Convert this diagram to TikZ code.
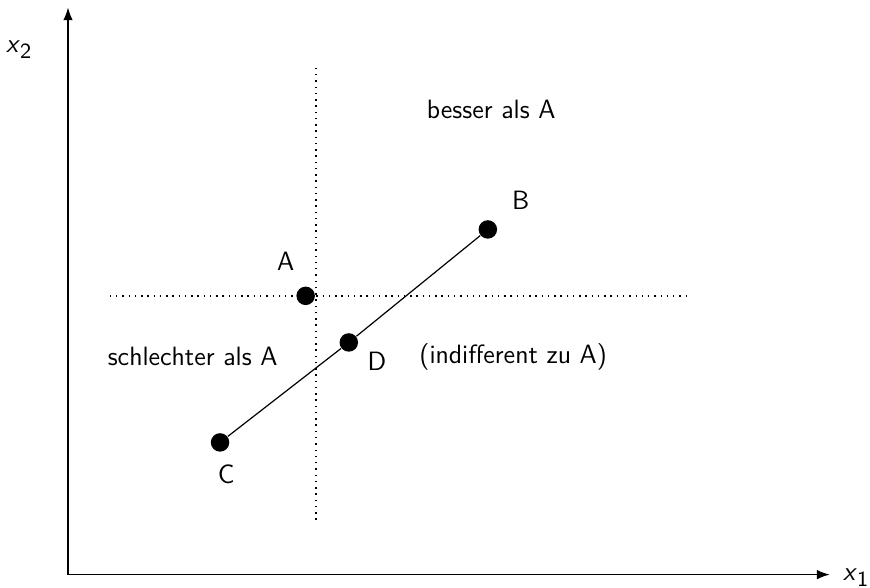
\documentclass[tikz,border=0pt]{standalone}
\usetikzlibrary{arrows.meta}
\renewcommand{\familydefault}{\sfdefault}

\begin{document}
\begin{tikzpicture}[line width=0.5pt,>=Latex,
  every node/.style={font=\fontsize{11}{13}\selectfont},
  pt/.style={circle,fill=black,inner sep=0pt,minimum size=0.27cm},
  grenze/.style={dotted,line width=0.6pt}]
\useasboundingbox (-0.993,-0.19) rectangle (11.71,8.39);
% ---------- axes ----------
\coordinate (O) at (0,0);
\coordinate (xend) at (11.12,0);
\coordinate (yend) at (0,8.28);
\draw[->] (O) -- (xend);
\draw[->] (O) -- (yend);
\node (xone) at (11.50,-0.05) {\textsl{x}\raisebox{-0.5ex}{\small 1}};
\node (xtwo) at (-0.72,7.66) {\textsl{x}\raisebox{-0.5ex}{\small 2}};
% ---------- dotted lines through A ----------
\coordinate (vtop) at (3.62,7.45);
\coordinate (vbot) at (3.62,0.80);
\coordinate (hleft) at (0.61,4.07);
\coordinate (hright) at (9.08,4.07);
\draw[grenze] (vbot) -- (vtop);
\draw[grenze] (hleft) -- (hright);
% ---------- points ----------
\node[pt] (A) at (3.47,4.07) {};
\node[pt] (B) at (6.13,5.04) {};
\node[pt] (C) at (2.22,1.93) {};
\node[pt] (D) at (4.10,3.39) {};
\draw (C) -- (D) -- (B);
\node (labA) at (3.18,4.57) {A};
\node (labB) at (6.61,5.47) {B};
\node (labC) at (2.31,1.47) {C};
\node (labD) at (4.51,3.12) {D};
% ---------- regions ----------
\node (besser) at (6.18,6.79) {besser als A};
\node (schlechter) at (1.82,3.18) {schlechter als A};
\node (indiff) at (6.50,3.18) {(indifferent zu A)};
\end{tikzpicture}
\end{document}
